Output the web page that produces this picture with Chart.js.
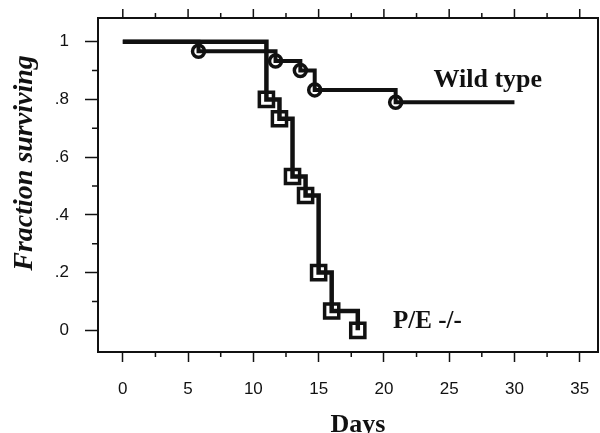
<!DOCTYPE html>
<html>
<head>
<meta charset="utf-8">
<script src="https://cdn.jsdelivr.net/npm/chart.js@4.4.1/dist/chart.umd.min.js"></script>
<style>
    html, body { margin: 0; padding: 0; background: #fff; }
</style>
</head>
<body>
<canvas id="myChart" width="600" height="433"></canvas>
<script>
// courbes de survie (Kaplan-Meier) : jours et fraction survivante
const wildDays = [0, 5.8, 11.7, 13.6, 14.7, 20.9, 30];
const wildSurv = [1, 0.967, 0.933, 0.9, 0.833, 0.79, 0.79];
const peDays = [0, 11, 12, 13, 14, 15, 16, 18];
const peSurv = [1, 0.8, 0.733, 0.533, 0.467, 0.2, 0.067, 0];

const seriesNames = ["Wild type", "P/E -/-"];

// graduations
const xTicks = [0, 5, 10, 15, 20, 25, 30, 35];
const xTickLabels = ["0", "5", "10", "15", "20", "25", "30", "35"];
const xMinor = [2.5, 7.5, 12.5, 17.5, 22.5, 27.5, 32.5];
const yTicks = [0, 0.2, 0.4, 0.6, 0.8, 1];
const yTickLabels = ["0", ".2", ".4", ".6", ".8", "1"];
const yMinor = [0.1, 0.3, 0.5, 0.7, 0.9];

const xTitle = "Days";
const yTitle = "Fraction surviving";

const ink = "#111";
const serif = "'Liberation Serif', 'DejaVu Serif', serif";
const sans = "'Liberation Sans', Arial, sans-serif";

var canvas = document.getElementById("myChart");
var ctx = canvas.getContext('2d');


/**
 * points {x, y} pour chart.js
 */
function toPoints(days, surv) {
    return days.map((d, i) => ({ x: d, y: surv[i] }));
}


/**
 * pas de marge automatique autour des étiquettes : le cadre est fixé
 */
function noPadding(s) {
    s.paddingTop = 0;
    s.paddingBottom = 0;
    s.paddingLeft = 0;
    s.paddingRight = 0;
}


/**
 * cadre, étiquettes de l'axe x, petites graduations, titres et noms des courbes
 */
const decorPlugin = {
    id: 'decor',
    afterDraw(chart) {
        const c = chart.ctx;
        const area = chart.chartArea;
        const xs = chart.scales.x;
        const ys = chart.scales.y;

        c.save();
        c.strokeStyle = ink;

        // haut et droite du cadre
        c.lineWidth = 2;
        c.beginPath();
        c.moveTo(area.left, area.top);
        c.lineTo(area.right, area.top);
        c.lineTo(area.right, area.bottom);
        c.stroke();

        // graduations
        c.lineWidth = 1.5;
        c.beginPath();
        xTicks.forEach(v => {
            const px = xs.getPixelForValue(v);
            c.moveTo(px, area.top);
            c.lineTo(px, area.top - 9);
        });
        xMinor.forEach(v => {
            const px = xs.getPixelForValue(v);
            c.moveTo(px, area.top);
            c.lineTo(px, area.top - 5);
            c.moveTo(px, area.bottom);
            c.lineTo(px, area.bottom + 5);
        });
        yMinor.forEach(v => {
            const py = ys.getPixelForValue(v);
            c.moveTo(area.left, py);
            c.lineTo(area.left - 6, py);
        });
        c.stroke();

        c.fillStyle = ink;

        // étiquettes de l'axe x
        c.font = "17px " + sans;
        c.textAlign = "center";
        c.textBaseline = "middle";
        xTicks.forEach((v, i) => {
            c.fillText(xTickLabels[i], xs.getPixelForValue(v), area.bottom + 37);
        });

        // noms des courbes
        c.font = "bold 26px " + serif;
        c.textAlign = "left";
        c.textBaseline = "alphabetic";
        c.fillText(seriesNames[0], xs.getPixelForValue(23.8), ys.getPixelForValue(0.843));
        c.font = "bold 25px " + serif;
        c.fillText(seriesNames[1], xs.getPixelForValue(20.7), ys.getPixelForValue(0.007));

        // titre axe x
        c.font = "bold 26px " + serif;
        c.textAlign = "center";
        c.fillText(xTitle, 358, 432);

        // titre axe y
        c.translate(25, 163);
        c.rotate(-Math.PI / 2);
        c.font = "italic bold 28px " + serif;
        c.textBaseline = "middle";
        c.fillText(yTitle, 0, 0);

        c.restore();
    }
};


function makeDataset(days, surv, name, style, radius, width) {
    const last = days.length - 1;
    return {
        label: name,
        data: toPoints(days, surv),
        stepped: 'before',
        borderColor: ink,
        borderWidth: width,
        pointStyle: style,
        // pas de marqueur au départ ni en fin de suivi sans événement
        pointRadius: days.map((d, i) => (i === 0 || (style === 'circle' && i === last)) ? 0 : radius),
        pointHoverRadius: 0,
        pointBorderWidth: 3.5,
        pointBorderColor: ink,
        pointBackgroundColor: 'rgba(0,0,0,0)',
        clip: false
    };
}


const config = {
    type: 'line',
    data: {
        datasets: [
            makeDataset(peDays, peSurv, seriesNames[1], 'rect', 10, 4.5),
            makeDataset(wildDays, wildSurv, seriesNames[0], 'circle', 6, 4)
        ]
    },
    options: {
        responsive: false,
        animation: false,
        // autoPadding réserve la taille des marqueurs : inutile ici
        layout: { autoPadding: false, padding: { top: 18, right: 2, left: 0, bottom: 0 } },
        plugins: {
            legend: { display: false },
            tooltip: { enabled: false }
        },
        scales: {
            x: {
                type: 'linear',
                min: -1.9,
                max: 36.4,
                afterBuildTicks: s => { s.ticks = xTicks.map(v => ({ value: v })); },
                afterFit: s => { s.height = 81; noPadding(s); },
                ticks: { display: false },
                grid: {
                    drawOnChartArea: false,
                    tickLength: 10,
                    tickWidth: 1.5,
                    tickColor: ink
                },
                border: { color: ink, width: 2 }
            },
            y: {
                min: -0.075,
                max: 1.082,
                afterBuildTicks: s => { s.ticks = yTicks.map(v => ({ value: v })); },
                afterFit: s => { s.width = 98; noPadding(s); },
                ticks: {
                    color: ink,
                    font: { family: sans, size: 17 },
                    padding: 16,
                    autoSkip: false,
                    callback: (v, i) => yTickLabels[i]
                },
                grid: {
                    drawOnChartArea: false,
                    tickLength: 13,
                    tickWidth: 1.5,
                    tickColor: ink
                },
                border: { color: ink, width: 2 }
            }
        }
    },
    plugins: [decorPlugin]
};

var myChart = new Chart(ctx, config);
</script>
</body>
</html>
